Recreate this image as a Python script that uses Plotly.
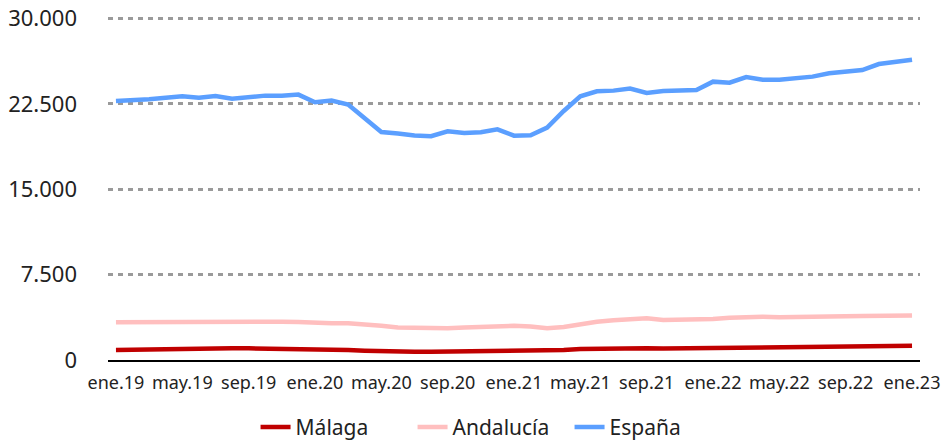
import plotly.graph_objects as go

meses = ["ene", "feb", "mar", "abr", "may", "jun", "jul", "ago", "sep", "oct", "nov", "dic"]
categorias = [f"{m}.{y}" for y in ["19", "20", "21", "22"] for m in meses] + ["ene.23"]

espana = [22746, 22781, 22895, 23026, 23158, 23044, 23184, 22956, 23132, 23219, 23219, 23307,
          22632, 22781, 22430, 21228, 20026, 19886, 19711, 19649, 20088, 19939, 20000, 20263,
          19700, 19737, 20412, 21868, 23158, 23596, 23658, 23833, 23447, 23623, 23684, 23711,
          24447, 24360, 24851, 24623, 24623, 24763, 24886, 25175, 25325, 25465, 25991, 26167,
          26377]
andalucia = [3307, 3320, 3340, 3350, 3350, 3340, 3360, 3360, 3360, 3370, 3360, 3330,
             3250, 3219, 3220, 3150, 3000, 2850, 2800, 2780, 2780, 2850, 2924, 2960,
             3009, 2950, 2780, 2900, 3150, 3360, 3500, 3570, 3658, 3509, 3509, 3540,
             3596, 3720, 3801, 3801, 3760, 3801, 3820, 3820, 3840, 3860, 3880, 3900,
             3918]
malaga = [877, 900, 1000, 1023, 1023, 1000, 1023, 1023, 1023, 1010, 1000, 980,
          950, 930, 877, 820, 760, 740, 731, 731, 740, 760, 780, 850,
          877, 819, 819, 880, 965, 1000, 1010, 1023, 1023, 1000, 1023, 1030,
          1050, 1080, 1111, 1111, 1111, 1140, 1170, 1180, 1200, 1210, 1228, 1240,
          1257]

tick_idx = list(range(0, len(categorias), 4))
tick_labels = [categorias[i] for i in tick_idx]
y_ticks = [0, 7500, 15000, 22500, 30000]

fig = go.Figure()
fig.add_trace(go.Scatter(x=categorias, y=malaga, name="Málaga", mode="lines",
                         line=dict(color="#C00000", width=4.5)))
fig.add_trace(go.Scatter(x=categorias, y=andalucia, name="Andalucía", mode="lines",
                         line=dict(color="#FFBFBF", width=4.5)))
fig.add_trace(go.Scatter(x=categorias, y=espana, name="España", mode="lines",
                         line=dict(color="#5B9FFF", width=4.5)))

fig.update_layout(
    width=943, height=443,
    margin=dict(l=108, r=23, t=15, b=83, autoexpand=False),
    paper_bgcolor="white", plot_bgcolor="white",
    separators=",.",
    font=dict(family="Noto Sans, Open Sans, sans-serif", color="#222222", size=18),
    showlegend=True,
    legend=dict(orientation="h", xref="container", x=0.271, xanchor="left",
                y=-0.195, yanchor="middle",
                font=dict(size=21), itemwidth=30, entrywidth=112),
    xaxis=dict(type="category", range=[-0.48, 48.48], tickmode="array",
               tickvals=tick_labels, ticktext=tick_labels, automargin=False,
               showgrid=False, showline=True, linecolor="#000000", linewidth=2,
               ticks="", tickfont=dict(size=18), ticklabelstandoff=5, tickangle=0),
    yaxis=dict(range=[0, 30300], tickmode="array", tickvals=y_ticks, tickformat=",.0f",
               automargin=False,
               showgrid=True, gridcolor="#9A9A9A", gridwidth=2.5, griddash="5px,5px",
               zeroline=False, showline=False, ticks="", tickfont=dict(size=22),
               ticklabelstandoff=30),
)

fig.write_html("out.html", config={"displayModeBar": False},
               post_script="document.body.style.margin='0';document.body.style.overflow='hidden';")
